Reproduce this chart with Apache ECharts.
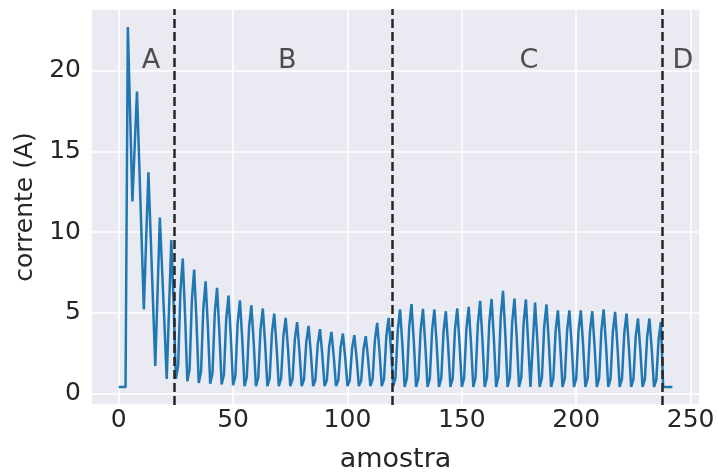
<!DOCTYPE html>
<html>
<head>
<meta charset="utf-8">
<script src="https://cdn.jsdelivr.net/npm/echarts@6/dist/echarts.min.js"></script>
<style>
html,body{margin:0;padding:0;background:#fff;}
#chart{width:718px;height:475px;}
</style>
</head>
<body>
<div id="chart"></div>
<script>
// corrente (A) per amostra (sample index 0..242)
const corrente = [
0.4,0.4,0.4,0.4,22.7,17.3,11.9,15.3,18.7,14.2,
9.7,5.2,9.5,13.7,9.7,5.7,1.7,6.3,10.9,7.6,
4.3,0.9,5.2,9.5,5.63,0.9,1.72,6.34,8.35,4.93,
0.75,1.51,5.8,7.67,4.51,0.65,1.34,5.25,6.95,4.09,
0.6,1.25,4.94,6.54,3.84,0.55,1.16,4.57,6.06,3.56,
0.5,1.08,4.35,5.77,3.38,0.45,1.0,4.11,5.46,3.21,
0.45,0.98,3.96,5.26,3.1,0.45,0.95,3.74,4.95,2.93,
0.45,0.92,3.54,4.68,2.78,0.45,0.89,3.34,4.41,2.63,
0.45,0.86,3.17,4.18,2.5,0.45,0.84,3.03,3.98,2.39,
0.45,0.82,2.9,3.81,2.3,0.45,0.81,2.83,3.71,2.24,
0.45,0.8,2.76,3.61,2.19,0.45,0.79,2.71,3.55,2.16,
0.45,0.88,3.31,4.37,2.61,0.45,0.92,3.54,4.68,2.78,
0.45,0.97,3.92,5.2,3.04,0.4,0.96,4.14,5.53,3.22,
0.4,0.93,3.93,5.24,3.06,0.4,0.93,3.9,5.2,3.04,
0.4,0.92,3.82,5.09,2.98,0.4,0.93,3.95,5.26,3.07,
0.4,0.95,4.02,5.36,3.13,0.4,0.99,4.29,5.73,3.33,
0.4,1.0,4.38,5.85,3.4,0.4,1.05,4.74,6.35,3.67,
0.4,1.0,4.4,5.88,3.41,0.4,1.0,4.36,5.82,3.11,
0.4,3.02,5.63,3.28,0.4,0.96,4.13,5.51,3.21,0.4,
0.92,3.87,5.15,3.01,0.4,0.92,3.87,5.15,3.01,0.4,
0.92,3.87,5.15,3.01,0.4,0.92,3.82,5.09,2.98,0.4,
0.93,3.9,5.2,3.04,0.4,0.91,3.79,5.05,2.96,0.4,
0.9,3.72,4.95,2.9,0.4,0.87,3.5,4.64,2.73,0.4,
0.87,3.5,4.64,2.73,0.4,0.84,3.34,4.43,0.4,0.4,
0.4,0.4,0.4
];
// region boundaries (amostra) and region labels
const boundaries = [24.3, 119.5, 237.6];
const regionNames = ['A', 'B', 'C', 'D'];
const regionLabelX = [14.1, 73.7, 179.3, 246.6];
const regionLabelY = [20.6, 20.6, 20.6, 20.6];
// axis tick values
const xTicks = [0, 50, 100, 150, 200, 250];
const yTicks = [0, 5, 10, 15, 20];

const lineData = corrente.map((v, i) => [i, v]);
const labelData = regionNames.map((n, i) => ({ value: [regionLabelX[i], regionLabelY[i]], name: n }));

const txt = '#262626';
const font = 'DejaVu Sans';
const chart = echarts.init(document.getElementById('chart'), null, { renderer: 'canvas' });
chart.setOption({
  animation: false,
  backgroundColor: '#ffffff',
  grid: { left: 91, right: 18, top: 9, bottom: 70, containLabel: false, outerBoundsMode: 'none',
    show: true, backgroundColor: '#EAEAF2', borderWidth: 0 },
  xAxis: {
    type: 'value', min: -12.1, max: 254.1,
    name: 'amostra', nameLocation: 'middle', nameGap: 41,
    nameTextStyle: { fontFamily: font, fontSize: 27, color: txt },
    axisLine: { show: false }, axisTick: { show: false },
    axisLabel: { fontFamily: font, fontSize: 25, color: txt, margin: 3,
      formatter: v => (xTicks.indexOf(Math.round(v * 1000) / 1000) >= 0 ? String(v) : '') },
    splitLine: { show: true, lineStyle: { color: '#ffffff', width: 1.6 } }
  },
  yAxis: {
    type: 'value', min: -0.72, max: 23.82,
    name: 'corrente (A)', nameLocation: 'middle', nameGap: 47, nameRotate: 90,
    nameTextStyle: { fontFamily: font, fontSize: 25, color: txt },
    axisLine: { show: false }, axisTick: { show: false },
    axisLabel: { fontFamily: font, fontSize: 25, color: txt, margin: 10,
      formatter: v => (yTicks.indexOf(Math.round(v * 1000) / 1000) >= 0 ? String(v) : '') },
    splitLine: { show: true, lineStyle: { color: '#ffffff', width: 1.6 } }
  },
  series: [
    {
      type: 'line', data: lineData, showSymbol: false, symbol: 'none',
      lineStyle: { color: '#1f77b4', width: 2.5 },
      z: 3,
      markLine: {
        silent: true, symbol: ['none', 'none'], label: { show: false },
        lineStyle: { color: '#262626', width: 2.5, type: [9, 4] },
        data: boundaries.map(b => ({ xAxis: b })),
        z: 4
      }
    },
    {
      type: 'scatter', data: labelData, symbolSize: 2,
      itemStyle: { color: 'rgba(0,0,0,0)' }, silent: true, z: 5,
      label: { show: true, position: 'inside', formatter: p => p.name,
        fontFamily: font, fontSize: 27, color: txt, textBorderWidth: 0 }
    }
  ]
});
</script>
</body>
</html>
